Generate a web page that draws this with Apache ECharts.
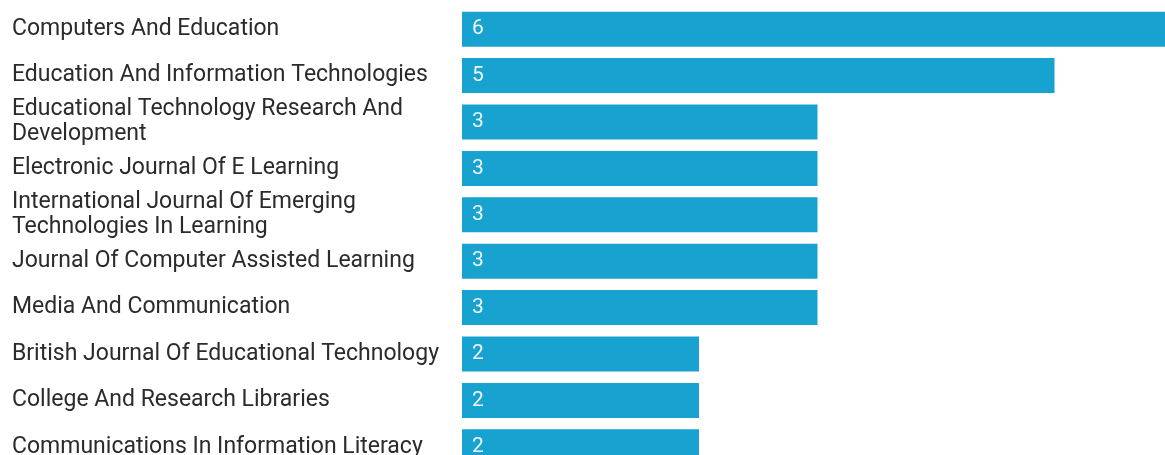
<!DOCTYPE html>
<html>
<head>
<meta charset="utf-8">
<script src="https://cdn.jsdelivr.net/npm/echarts@6/dist/echarts.min.js"></script>
<style>
  html, body { margin: 0; padding: 0; background: #fff; overflow: hidden; }
  /* chart is a bit larger than the window, the picture crops the overflow */
  #chart { width: 1173px; height: 470px; }
</style>
</head>
<body>
<div id="chart"></div>
<script>
const journals = [
  'Computers And Education',
  'Education And Information Technologies',
  'Educational Technology Research And Development',
  'Electronic Journal Of E Learning',
  'International Journal Of Emerging Technologies In Learning',
  'Journal Of Computer Assisted Learning',
  'Media And Communication',
  'British Journal Of Educational Technology',
  'College And Research Libraries',
  'Communications In Information Literacy'
]
const counts = [6, 5, 3, 3, 3, 3, 3, 2, 2, 2]

const myChart = echarts.init(document.getElementById('chart'))
const option = {
  animation: false,
  grid: {
    left: 462,
    right: 0,
    top: 6,
    bottom: 0,
    containLabel: false
  },
  xAxis: {
    type: 'value',
    min: 0,
    max: 6,
    show: false
  },
  yAxis: {
    type: 'category',
    data: journals,
    inverse: true,
    axisLine: { show: false },
    axisTick: { show: false },
    axisLabel: {
      align: 'left',
      margin: 450,
      width: 440,
      overflow: 'break',
      fontFamily: 'Roboto',
      fontSize: 23,
      lineHeight: 25,
      color: '#2b2b2b'
    }
  },
  series: [
    {
      type: 'bar',
      data: counts,
      barWidth: 35,
      itemStyle: { color: '#17a2cf' },
      label: {
        show: true,
        position: 'insideLeft',
        distance: 10,
        fontFamily: 'Roboto',
        fontSize: 21,
        color: '#eef7fb'
      }
    }
  ]
}
myChart.setOption(option)
</script>
</body>
</html>
